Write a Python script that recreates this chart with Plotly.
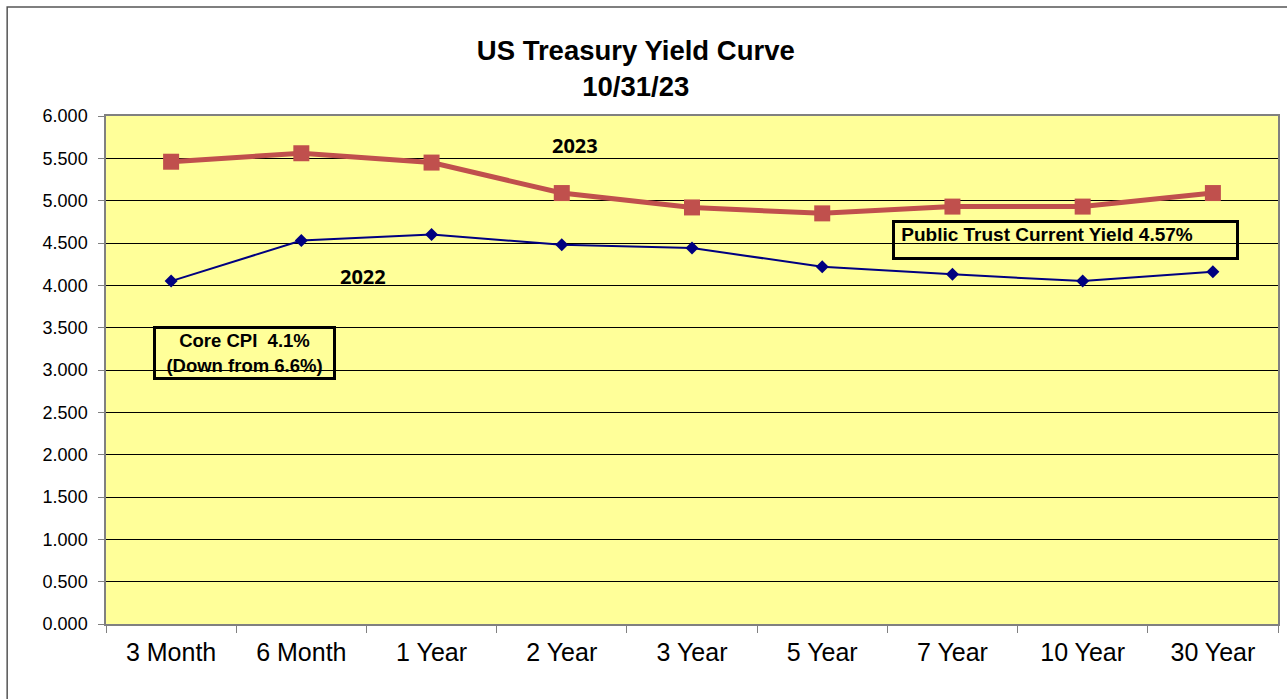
import plotly.graph_objects as go

categories = ["3 Month", "6 Month", "1 Year", "2 Year", "3 Year", "5 Year", "7 Year", "10 Year", "30 Year"]
y2023 = [5.46, 5.56, 5.45, 5.09, 4.92, 4.85, 4.93, 4.93, 5.09]
y2022 = [4.05, 4.53, 4.60, 4.48, 4.44, 4.22, 4.13, 4.05, 4.16]
y_ticks = [0, 0.5, 1, 1.5, 2, 2.5, 3, 3.5, 4, 4.5, 5, 5.5, 6]

fig = go.Figure()
fig.add_trace(go.Scatter(
    x=categories, y=y2022, mode="lines+markers", name="2022",
    line=dict(color="#000080", width=2),
    marker=dict(symbol="diamond", size=10, color="#000080"),
))
fig.add_trace(go.Scatter(
    x=categories, y=y2023, mode="lines+markers", name="2023",
    line=dict(color="#C0504D", width=5),
    marker=dict(symbol="square", size=16, color="#C0504D"),
))

fig.update_layout(
    width=1287, height=699,
    margin=dict(l=106, r=7, t=116, b=75),
    paper_bgcolor="white",
    plot_bgcolor="#FFFF99",
    showlegend=False,
    font=dict(family="Liberation Sans, Arial", color="black"),
    title=dict(
        text="<b>US Treasury Yield Curve<br>10/31/23</b>",
        x=0.494, xref="container", xanchor="center",
        y=1 - 60 / 699, yref="container", yanchor="top",
        font=dict(size=27.5, family="Liberation Sans, Arial", color="black"),
    ),
    xaxis=dict(
        type="category", range=[-0.5, 8.5],
        tickson="boundaries", ticks="outside", ticklen=7, tickcolor="#808080",
        showline=True, linecolor="#808080", linewidth=1.5, mirror=True,
        showgrid=False, ticklabelstandoff=5,
        tickfont=dict(size=25, family="Liberation Sans, Arial", color="black"),
    ),
    yaxis=dict(
        range=[0, 6], tickvals=y_ticks, tickformat=".3f",
        ticks="outside", ticklen=6, tickcolor="#808080",
        showline=True, linecolor="#808080", linewidth=1.5, mirror=True,
        showgrid=True, gridcolor="black", gridwidth=1,
        zeroline=False, ticklabelstandoff=7,
        tickfont=dict(size=18, family="Liberation Sans, Arial", color="black"),
    ),
)

# outer chart border
fig.add_shape(type="rect", xref="paper", yref="paper",
              x0=-99 / 1174, x1=1.02, y0=-0.2, y1=1 + 109 / 508,
              line=dict(color="#555555", width=1.5), layer="below")

fig.add_annotation(x=3.105, y=5.646, xref="x", yref="y", text="<b>2023</b>",
                   showarrow=False, font=dict(size=20, family="Open Sans", color="black"))
fig.add_annotation(x=1.474, y=4.106, xref="x", yref="y", text="<b>2022</b>",
                   showarrow=False, font=dict(size=20, family="Open Sans", color="black"))
fig.add_annotation(x=0.56, y=3.206, xref="x", yref="y",
                   text="<b>Core CPI  4.1%<br>(Down from 6.6%)</b>",
                   showarrow=False, align="center",
                   width=175, height=46, borderwidth=3, borderpad=1, bordercolor="black",
                   font=dict(size=18.5, family="Liberation Sans, Arial", color="black"))
fig.add_annotation(x=6.868, y=4.538, xref="x", yref="y",
                   text="<b> Public Trust Current Yield 4.57%</b>",
                   showarrow=False, align="left", valign="top",
                   width=339, height=32, borderwidth=3, borderpad=1, bordercolor="black",
                   font=dict(size=19, family="Liberation Sans, Arial", color="black"))

fig.write_html("out.html", config={"displayModeBar": False},
               post_script="document.body.style.margin='0';")
